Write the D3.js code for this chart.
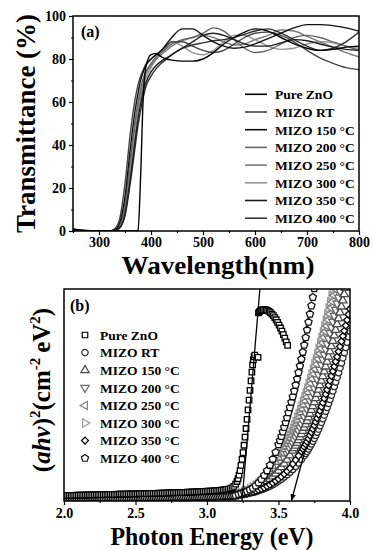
<!DOCTYPE html>
<html>
<head>
<meta charset="utf-8">
<script src="https://cdn.jsdelivr.net/npm/d3@7"></script>
<style>
  body { margin: 0; background: #fff; }
  svg { display: block; font-family: "Liberation Serif", "Times New Roman", serif; font-weight: bold; }
</style>
</head>
<body>
<div id="chart"></div>
<script>
// ---------- panel (a): transmittance vs wavelength ----------
const wavelengths = [250, 270, 300, 320, 330, 340, 350, 360, 370, 375, 380, 385, 390, 400, 410, 420, 430, 440, 460, 480, 500, 520, 540, 560, 580, 600, 625, 650, 675, 700, 725, 750, 775, 800];
const tPureZnO = [1.0, 0.3, 0, 0, 0, 0, 0, 0, 0, 0.5, 25, 62, 76, 82, 82.5, 81, 80, 79.5, 79, 79, 80, 83, 87, 90, 92.5, 94, 93, 90, 87, 85, 84, 84.5, 85.5, 86];
const tMizoRT  = [0.8, 0.2, 0, 0, 1, 6, 22, 45, 62, 68, 72, 75, 77.5, 80, 82, 84, 86, 88, 88, 86, 84, 83, 84, 87, 90, 92, 92.5, 91, 88, 84, 80.5, 78, 76, 75];
const tMizo150 = [0.6, 0.2, 0, 0, 0.5, 4, 16, 38, 57, 64, 70, 74, 77, 80, 82, 84, 87, 90, 94, 94, 91, 88, 86, 85, 85.5, 87, 89.5, 92, 94.5, 96, 96, 95.5, 94.5, 93];
const tMizo200 = [0.5, 0.1, 0, 0, 0.5, 3, 13, 33, 52, 60, 66, 71, 74, 78, 81, 83, 85, 87, 89, 90, 92, 94.5, 93, 89, 85, 83, 84, 87, 90, 91, 90, 88, 86, 84];
const tMizo250 = [0.5, 0.1, 0, 0, 0.3, 2.5, 11, 30, 50, 58, 64, 69, 73, 77, 80, 82, 84, 86, 88.5, 90, 91, 90, 88, 86.5, 87, 89, 91, 93.5, 93, 90.5, 88, 85.5, 83, 81];
const tMizo300 = [0.4, 0.1, 0, 0, 0.2, 2, 9, 26, 46, 55, 62, 67, 71, 76, 80, 83, 86, 88, 86, 83, 82, 84, 88, 91, 91, 89, 86, 84.5, 85, 87, 88, 87.5, 86, 85];
const tMizo350 = [0.4, 0.1, 0, 0, 0.2, 1.5, 8, 24, 43, 52, 59, 65, 69, 74, 77, 79, 80.5, 82, 85, 88, 91, 92, 91, 89, 87, 86, 86, 87.5, 89, 88.5, 87, 85.5, 84.5, 84];
const tMizo400 = [0.4, 0.1, 0, 0, 0.2, 1.5, 7, 22, 40, 49, 56, 62, 67, 72, 75.5, 78, 80, 82, 85, 86.5, 87.5, 88.5, 89, 90, 91.5, 93, 94, 92, 89, 86, 84, 85, 88, 92.5];

const sampleNames = ["Pure ZnO", "MIZO RT", "MIZO 150 °C", "MIZO 200 °C", "MIZO 250 °C", "MIZO 300 °C", "MIZO 350 °C", "MIZO 400 °C"];
const xTicksA = [300, 400, 500, 600, 700, 800];
const xMinorA = [250, 350, 450, 550, 650, 750];
const yTicksA = [0, 20, 40, 60, 80, 100];
const yMinorA = [10, 30, 50, 70, 90];

// ---------- panel (b): Tauc plot ----------
// flat low-energy part, where the curves pile up into one dark band
const tailEnergy = [
  2, 2.0125, 2.025, 2.0375, 2.05, 2.0625, 2.075, 2.0875, 2.1, 2.1125,
  2.125, 2.1375, 2.15, 2.1625, 2.175, 2.1875, 2.2, 2.2125, 2.225, 2.2375,
  2.25, 2.2625, 2.275, 2.2875, 2.3, 2.3125, 2.325, 2.3375, 2.35, 2.3625,
  2.375, 2.3875, 2.4, 2.4125, 2.425, 2.4375, 2.45, 2.4625, 2.475, 2.4875,
  2.5, 2.5125, 2.525, 2.5375, 2.55, 2.5625, 2.575, 2.5875, 2.6, 2.6125,
  2.625, 2.6375, 2.65, 2.6625, 2.675, 2.6875, 2.7, 2.7125, 2.725, 2.7375,
  2.75, 2.7625, 2.775, 2.7875, 2.8, 2.8125, 2.825, 2.8375, 2.85, 2.8625,
  2.875, 2.8875, 2.9, 2.9125, 2.925, 2.9375, 2.95, 2.9625, 2.975, 2.9875,
  3.0, 3.0125, 3.025, 3.0375, 3.05, 3.0625, 3.075, 3.0875, 3.1, 3.1125,
  3.125, 3.1375, 3.15, 3.1625, 3.175, 3.1875, 3.2];
const tailZnO = [
  2.6, 2.6, 2.62, 2.64, 2.66, 2.68, 2.7, 2.72, 2.74, 2.76,
  2.78, 2.8, 2.82, 2.84, 2.86, 2.88, 2.9, 2.92, 2.94, 2.96,
  2.98, 3.0, 3.02, 3.04, 3.06, 3.08, 3.1, 3.12, 3.14, 3.16,
  3.18, 3.2, 3.22, 3.24, 3.26, 3.28, 3.3, 3.32, 3.34, 3.36,
  3.38, 3.4, 3.42, 3.44, 3.46, 3.48, 3.5, 3.52, 3.54, 3.56,
  3.58, 3.6, 3.62, 3.65, 3.68, 3.71, 3.74, 3.77, 3.8, 3.83,
  3.86, 3.89, 3.92, 3.95, 3.98, 4.01, 4.04, 4.07, 4.1, 4.14,
  4.18, 4.22, 4.26, 4.3, 4.34, 4.38, 4.42, 4.46, 4.5, 4.55,
  4.6, 4.65, 4.7, 4.76, 4.82, 4.88, 4.95, 5.02, 5.1, 5.2,
  5.32, 5.46, 5.64, 5.86, 6.2, 6.9, 8.0];
const tailMIZO = [
  1.3, 1.3, 1.31, 1.32, 1.33, 1.34, 1.35, 1.36, 1.37, 1.38,
  1.39, 1.4, 1.41, 1.42, 1.43, 1.44, 1.45, 1.46, 1.47, 1.48,
  1.49, 1.5, 1.51, 1.52, 1.53, 1.54, 1.55, 1.56, 1.57, 1.58,
  1.59, 1.6, 1.61, 1.62, 1.63, 1.64, 1.65, 1.66, 1.67, 1.68,
  1.69, 1.7, 1.71, 1.72, 1.73, 1.74, 1.75, 1.76, 1.77, 1.78,
  1.79, 1.8, 1.81, 1.82, 1.83, 1.84, 1.85, 1.86, 1.87, 1.88,
  1.89, 1.9, 1.91, 1.92, 1.93, 1.94, 1.95, 1.96, 1.97, 1.98,
  1.99, 2.0, 2.01, 2.02, 2.03, 2.04, 2.05, 2.07, 2.09, 2.11,
  2.13, 2.15, 2.17, 2.19, 2.21, 2.23, 2.26, 2.29, 2.32, 2.35,
  2.38, 2.42, 2.46, 2.5, 2.55, 2.6, 2.66];

// [energy, (ahv)^2] above the common tail
const riseZnO = [[3.21, 9.2], [3.217, 10.5], [3.224, 12.2], [3.231, 14.3], [3.238, 16.8], [3.245, 19.6], [3.252, 22.8], [3.259, 26.3], [3.266, 30.1], [3.273, 34.2], [3.28, 38.5], [3.287, 43], [3.294, 47.6], [3.301, 52.2], [3.308, 56.7], [3.314, 60.8], [3.319, 64.2], [3.324, 66.6], [3.329, 68.0], [3.334, 68.8], [3.357, 67.8], [3.36, 88.7], [3.367, 89.3], [3.375, 89.8], [3.384, 90.1], [3.394, 90.3], [3.404, 90.3], [3.414, 90.1], [3.424, 89.8], [3.434, 89.4], [3.444, 88.9], [3.454, 88.2], [3.464, 87.4], [3.474, 86.5], [3.484, 85.5], [3.494, 84.3], [3.504, 83.0], [3.514, 81.6], [3.524, 80.1], [3.534, 78.5], [3.544, 76.8], [3.554, 75.1], [3.564, 73.4]];
const riseRT = [[3.22, 2.8], [3.24, 3.0], [3.26, 3.2], [3.28, 3.4], [3.30, 3.7], [3.32, 4.0], [3.34, 4.4], [3.36, 4.8], [3.38, 5.3], [3.40, 5.8], [3.42, 6.4], [3.44, 7.0], [3.46, 7.7], [3.48, 8.5], [3.50, 9.4], [3.52, 10.3], [3.54, 11.3], [3.56, 12.4], [3.58, 13.6], [3.60, 14.9], [3.62, 16.3], [3.64, 17.9], [3.66, 19.6], [3.68, 21.4], [3.69, 22.4], [3.70, 23.4], [3.71, 24.5], [3.72, 25.7], [3.73, 26.9], [3.74, 28.2], [3.75, 29.5], [3.76, 30.9], [3.77, 32.4], [3.78, 33.9], [3.79, 35.5], [3.80, 37.1], [3.81, 38.8], [3.82, 40.5], [3.83, 42.3], [3.84, 44.1], [3.85, 46.0], [3.86, 47.9], [3.87, 49.9], [3.88, 51.9], [3.89, 54.0], [3.90, 56.1], [3.91, 58.3], [3.92, 60.5], [3.93, 62.8], [3.94, 65.1], [3.95, 67.5], [3.96, 69.9], [3.97, 72.4], [3.98, 74.9], [3.99, 77.5], [4.00, 80.1]];
const rise150 = [[3.22, 3.0], [3.24, 3.4], [3.26, 3.9], [3.28, 4.3], [3.30, 4.8], [3.32, 5.3], [3.34, 5.9], [3.36, 6.6], [3.38, 7.4], [3.40, 8.3], [3.42, 9.3], [3.44, 10.4], [3.46, 11.6], [3.48, 12.9], [3.50, 14.3], [3.52, 15.9], [3.54, 17.6], [3.56, 19.5], [3.58, 21.5], [3.60, 23.7], [3.61, 24.9], [3.62, 26.1], [3.63, 27.4], [3.64, 28.7], [3.65, 30.1], [3.66, 31.5], [3.67, 33.0], [3.68, 34.5], [3.69, 36.1], [3.70, 37.7], [3.71, 39.4], [3.72, 41.1], [3.73, 42.9], [3.74, 44.7], [3.75, 46.6], [3.76, 48.5], [3.77, 50.5], [3.78, 52.5], [3.79, 54.6], [3.80, 56.7], [3.81, 58.9], [3.82, 61.1], [3.83, 63.4], [3.84, 65.7], [3.85, 68.1], [3.86, 70.5], [3.87, 73.0], [3.88, 75.5], [3.89, 78.1], [3.90, 80.7], [3.91, 83.4], [3.92, 86.1], [3.93, 88.9], [3.94, 91.7], [3.95, 94.6], [3.96, 97.5], [3.97, 100.5]];
const rise200 = [[3.22, 3.1], [3.24, 3.6], [3.26, 4.1], [3.28, 4.6], [3.30, 5.1], [3.32, 5.7], [3.34, 6.4], [3.36, 7.2], [3.38, 8.1], [3.40, 9.1], [3.42, 10.2], [3.44, 11.5], [3.46, 12.9], [3.48, 14.4], [3.50, 16.1], [3.52, 18.0], [3.54, 20.0], [3.56, 22.2], [3.57, 23.4], [3.58, 24.6], [3.59, 25.9], [3.60, 27.2], [3.61, 28.6], [3.62, 30.0], [3.63, 31.5], [3.64, 33.0], [3.65, 34.6], [3.66, 36.2], [3.67, 37.9], [3.68, 39.6], [3.69, 41.4], [3.70, 43.2], [3.71, 45.1], [3.72, 47.0], [3.73, 49.0], [3.74, 51.0], [3.75, 53.1], [3.76, 55.2], [3.77, 57.4], [3.78, 59.6], [3.79, 61.9], [3.80, 64.2], [3.81, 66.6], [3.82, 69.0], [3.83, 71.5], [3.84, 74.0], [3.85, 76.6], [3.86, 79.2], [3.87, 81.9], [3.88, 84.6], [3.89, 87.4], [3.90, 90.2], [3.91, 93.1], [3.92, 96.0], [3.93, 99.0], [3.94, 102]];
const rise250 = [[3.22, 3.2], [3.24, 3.7], [3.26, 4.3], [3.28, 4.8], [3.30, 5.4], [3.32, 6.1], [3.34, 6.9], [3.36, 7.8], [3.38, 8.8], [3.40, 9.9], [3.42, 11.2], [3.44, 12.6], [3.46, 14.2], [3.48, 16.0], [3.50, 18.0], [3.52, 20.2], [3.54, 22.6], [3.55, 23.9], [3.56, 25.2], [3.57, 26.6], [3.58, 28.0], [3.59, 29.5], [3.60, 31.0], [3.61, 32.6], [3.62, 34.2], [3.63, 35.9], [3.64, 37.6], [3.65, 39.4], [3.66, 41.2], [3.67, 43.1], [3.68, 45.0], [3.69, 47.0], [3.70, 49.0], [3.71, 51.1], [3.72, 53.2], [3.73, 55.4], [3.74, 57.6], [3.75, 59.9], [3.76, 62.2], [3.77, 64.6], [3.78, 67.0], [3.79, 69.5], [3.80, 72.0], [3.81, 74.6], [3.82, 77.2], [3.83, 79.9], [3.84, 82.6], [3.85, 85.4], [3.86, 88.2], [3.87, 91.1], [3.88, 94.0], [3.89, 97.0], [3.90, 100]];
const rise300 = [[3.22, 3.3], [3.24, 3.8], [3.26, 4.5], [3.28, 5.1], [3.30, 5.8], [3.32, 6.6], [3.34, 7.5], [3.36, 8.5], [3.38, 9.7], [3.40, 11.0], [3.42, 12.5], [3.44, 14.1], [3.46, 15.9], [3.48, 17.9], [3.50, 20.1], [3.52, 22.5], [3.53, 23.8], [3.54, 25.1], [3.55, 26.5], [3.56, 27.9], [3.57, 29.4], [3.58, 30.9], [3.59, 32.5], [3.60, 34.1], [3.61, 35.8], [3.62, 37.5], [3.63, 39.3], [3.64, 41.1], [3.65, 43.0], [3.66, 44.9], [3.67, 46.9], [3.68, 48.9], [3.69, 51.0], [3.70, 53.1], [3.71, 55.3], [3.72, 57.5], [3.73, 59.8], [3.74, 62.1], [3.75, 64.5], [3.76, 66.9], [3.77, 69.4], [3.78, 71.9], [3.79, 74.5], [3.80, 77.1], [3.81, 79.8], [3.82, 82.5], [3.83, 85.3], [3.84, 88.1], [3.85, 91.0], [3.86, 93.9], [3.87, 96.9], [3.88, 100]];
const rise350 = [[3.22, 2.9], [3.24, 3.1], [3.26, 3.3], [3.28, 3.6], [3.30, 3.9], [3.32, 4.3], [3.34, 4.7], [3.36, 5.2], [3.38, 5.7], [3.40, 6.3], [3.42, 7.0], [3.44, 7.7], [3.46, 8.5], [3.48, 9.4], [3.50, 10.4], [3.52, 11.5], [3.54, 12.7], [3.56, 14.0], [3.58, 15.4], [3.60, 17.5], [3.62, 19.3], [3.64, 21.3], [3.66, 23.4], [3.67, 24.5], [3.68, 25.6], [3.69, 26.8], [3.70, 28.0], [3.71, 29.4], [3.72, 30.9], [3.73, 32.4], [3.74, 34.0], [3.75, 35.6], [3.76, 37.3], [3.77, 39.0], [3.78, 40.8], [3.79, 42.6], [3.80, 44.5], [3.81, 46.4], [3.82, 48.4], [3.83, 50.4], [3.84, 52.5], [3.85, 54.6], [3.86, 56.8], [3.87, 59.0], [3.88, 61.2], [3.89, 63.5], [3.90, 65.8], [3.91, 68.1], [3.92, 70.5], [3.93, 72.9], [3.94, 75.3], [3.95, 77.8], [3.96, 80.3], [3.97, 82.8], [3.98, 85.4], [3.99, 88.0], [4.00, 90.6]];
const rise400 = [[3.22, 3.2], [3.24, 3.6], [3.26, 4.0], [3.28, 4.6], [3.30, 5.3], [3.32, 6.1], [3.34, 7.2], [3.36, 8.6], [3.38, 10.2], [3.40, 12.1], [3.42, 14.3], [3.44, 16.9], [3.46, 19.8], [3.48, 23.0], [3.50, 26.6], [3.51, 28.5], [3.52, 30.5], [3.53, 32.6], [3.54, 34.8], [3.55, 37.0], [3.56, 39.3], [3.57, 41.7], [3.58, 44.1], [3.59, 46.6], [3.60, 49.2], [3.61, 51.9], [3.62, 54.7], [3.63, 57.6], [3.64, 60.6], [3.65, 63.7], [3.66, 66.9], [3.67, 70.2], [3.68, 73.6], [3.69, 77.1], [3.70, 80.7], [3.71, 84.4], [3.72, 88.2], [3.73, 92.1], [3.74, 96.1], [3.75, 100.2]];

// extrapolated band-gap lines: [[E0, y0], [E1, y1]]
const fitZnO = [[3.245, 0], [3.37, 100]];
const fitMIZO = [[3.69, 25], [3.59, 0]];

const xTicksB = [2.0, 2.5, 3.0, 3.5, 4.0];
const xMinorB = [2.25, 2.75, 3.25, 3.75];

// ---------- styles ----------
const lineColors = ["#000", "#454545", "#111", "#666", "#7a7a7a", "#959595", "#1e1e1e", "#333"];
const markColors = ["#000", "#2a2a2a", "#4a4a4a", "#6a6a6a", "#808080", "#9a9a9a", "#000", "#111"];

const W = 373, H = 550;
const svg = d3.select("#chart").append("svg").attr("width", W).attr("height", H);

const pA = { left: 73, right: 359, top: 16, bottom: 231 };
const pB = { left: 64, right: 350, top: 289, bottom: 501 };

const defs = svg.append("defs");
defs.append("clipPath").attr("id", "clipA").append("rect")
  .attr("x", pA.left).attr("y", pA.top).attr("width", pA.right - pA.left).attr("height", pA.bottom - pA.top);
defs.append("clipPath").attr("id", "clipB").append("rect")
  .attr("x", pB.left).attr("y", pB.top).attr("width", pB.right - pB.left).attr("height", pB.bottom - pB.top);
defs.append("marker").attr("id", "arrow").attr("viewBox", "0 0 10 10").attr("refX", 10).attr("refY", 5)
  .attr("markerWidth", 7).attr("markerHeight", 7).attr("markerUnits", "userSpaceOnUse").attr("orient", "auto")
  .append("path").attr("d", "M0,1 L10,5 L0,9 Z").attr("fill", "#000");

function styleAxis(g, size) {
  g.select(".domain").remove();
  g.selectAll(".tick line").attr("stroke", "#000").attr("stroke-width", 1.2);
  g.selectAll(".tick text").attr("fill", "#000").style("font-size", size + "px").style("font-family", "Liberation Serif, serif").style("font-weight", "bold");
}

// ---------- panel (a) ----------
const xA = d3.scaleLinear().domain([250, 800]).range([pA.left, pA.right]);
const yA = d3.scaleLinear().domain([0, 100]).range([pA.bottom, pA.top]);

svg.append("g").attr("transform", `translate(0,${pA.bottom})`)
  .call(d3.axisBottom(xA).tickValues(xTicksA).tickSize(4).tickPadding(2)).call(g => styleAxis(g, 14));
svg.append("g").attr("transform", `translate(0,${pA.bottom})`)
  .call(d3.axisBottom(xA).tickValues(xMinorA).tickSize(2).tickFormat("")).call(g => styleAxis(g, 14));
svg.append("g").attr("transform", `translate(${pA.left},0)`)
  .call(d3.axisLeft(yA).tickValues(yTicksA).tickSize(4).tickPadding(3)).call(g => styleAxis(g, 14));
svg.append("g").attr("transform", `translate(${pA.left},0)`)
  .call(d3.axisLeft(yA).tickValues(yMinorA).tickSize(2).tickFormat("")).call(g => styleAxis(g, 14));

const transSeries = [tPureZnO, tMizoRT, tMizo150, tMizo200, tMizo250, tMizo300, tMizo350, tMizo400];
const line = d3.line().x((d, i) => xA(wavelengths[i])).y(d => yA(d)).curve(d3.curveMonotoneX);
const linesG = svg.append("g").attr("clip-path", "url(#clipA)");
[5, 4, 3, 1, 7, 6, 2, 0].forEach(k => {
  linesG.append("path").datum(transSeries[k]).attr("d", line)
    .attr("fill", "none").attr("stroke", lineColors[k]).attr("stroke-width", 1.4);
});

svg.append("rect").attr("x", pA.left).attr("y", pA.top).attr("width", pA.right - pA.left).attr("height", pA.bottom - pA.top)
  .attr("fill", "none").attr("stroke", "#000").attr("stroke-width", 1.5);

svg.append("text").attr("x", 81).attr("y", 37).style("font-size", "16px").text("(a)");

const legA = svg.append("g");
sampleNames.forEach((name, i) => {
  const cy = 94.3 + i * 17.7;
  legA.append("line").attr("x1", 245).attr("x2", 267).attr("y1", cy).attr("y2", cy)
    .attr("stroke", lineColors[i]).attr("stroke-width", 1.6);
  legA.append("text").attr("x", 275).attr("y", cy + 4.8).style("font-size", "13.5px").text(name);
});

svg.append("text").attr("transform", `translate(35,${(pA.top + pA.bottom) / 2}) rotate(-90)`)
  .attr("text-anchor", "middle").style("font-size", "27px").text("Transmittance (%)");
svg.append("text").attr("x", 218).attr("y", 274).attr("text-anchor", "middle")
  .attr("textLength", 193).attr("lengthAdjust", "spacingAndGlyphs")
  .style("font-size", "25px").text("Wavelength(nm)");

// ---------- panel (b) ----------
const xB = d3.scaleLinear().domain([2.0, 4.0]).range([pB.left, pB.right]);
const yB = d3.scaleLinear().domain([0, 100]).range([pB.bottom, pB.top]);

svg.append("g").attr("transform", `translate(0,${pB.bottom})`)
  .call(d3.axisBottom(xB).tickValues(xTicksB).tickSize(4).tickPadding(3).tickFormat(d3.format(".1f"))).call(g => styleAxis(g, 14));
svg.append("g").attr("transform", `translate(0,${pB.bottom})`)
  .call(d3.axisBottom(xB).tickValues(xMinorB).tickSize(2).tickFormat("")).call(g => styleAxis(g, 14));

const symbolPentagon = {
  draw(ctx, size) {
    const r = Math.sqrt(size / 2.378);
    for (let i = 0; i < 5; i++) {
      const a = -Math.PI / 2 + i * 2 * Math.PI / 5;
      if (i === 0) ctx.moveTo(r * Math.cos(a), r * Math.sin(a));
      else ctx.lineTo(r * Math.cos(a), r * Math.sin(a));
    }
    ctx.closePath();
  }
};
const markTypes = [
  { type: d3.symbolSquare, size: 30, rot: 0 },
  { type: d3.symbolCircle, size: 32, rot: 0 },
  { type: d3.symbolTriangle, size: 30, rot: 0 },
  { type: d3.symbolTriangle, size: 30, rot: 180 },
  { type: d3.symbolTriangle, size: 30, rot: -90 },
  { type: d3.symbolTriangle, size: 30, rot: 90 },
  { type: d3.symbolSquare, size: 24, rot: 45 },
  { type: symbolPentagon, size: 34, rot: 0 }
];

const withTail = (tail, rise) => tailEnergy.map((e, i) => [e, tail[i]]).concat(rise);
const taucSeries = [
  withTail(tailZnO, riseZnO),
  withTail(tailMIZO, riseRT),
  withTail(tailMIZO, rise150),
  withTail(tailMIZO, rise200),
  withTail(tailMIZO, rise250),
  withTail(tailMIZO, rise300),
  withTail(tailMIZO, rise350),
  withTail(tailMIZO, rise400)
];

const marksG = svg.append("g").attr("clip-path", "url(#clipB)");
[5, 4, 3, 2, 1, 6, 7, 0].forEach(k => {
  const m = markTypes[k];
  marksG.append("g").selectAll("path").data(taucSeries[k]).join("path")
    .attr("d", d3.symbol().type(m.type).size(m.size))
    .attr("transform", d => `translate(${xB(d[0])},${yB(d[1])}) rotate(${m.rot})`)
    .attr("fill", "#fff").attr("stroke", markColors[k]).attr("stroke-width", 1.3);
});

const fitLine = d3.line().x(d => xB(d[0])).y(d => yB(d[1]));
marksG.append("path").datum(fitZnO).attr("d", fitLine).attr("stroke", "#000").attr("stroke-width", 1.3).attr("fill", "none");
svg.append("path").datum(fitMIZO).attr("d", fitLine).attr("stroke", "#000").attr("stroke-width", 1.3)
  .attr("fill", "none").attr("marker-end", "url(#arrow)");

svg.append("rect").attr("x", pB.left).attr("y", pB.top).attr("width", pB.right - pB.left).attr("height", pB.bottom - pB.top)
  .attr("fill", "none").attr("stroke", "#000").attr("stroke-width", 1.5);

svg.append("text").attr("x", 70).attr("y", 311).style("font-size", "16px").text("(b)");

const legB = svg.append("g");
sampleNames.forEach((name, i) => {
  const cy = 335 + i * 17.6;
  const m = markTypes[i];
  legB.append("path").attr("d", d3.symbol().type(m.type).size(m.size))
    .attr("transform", `translate(85,${cy}) rotate(${m.rot})`)
    .attr("fill", "#fff").attr("stroke", markColors[i]).attr("stroke-width", 1.2);
  legB.append("text").attr("x", 100).attr("y", cy + 4.8).style("font-size", "13.5px").text(name);
});

const yt = svg.append("text").attr("transform", `translate(50,${(pB.top + pB.bottom) / 2 - 5}) rotate(-90)`)
  .attr("text-anchor", "middle").style("font-size", "25px");
yt.append("tspan").text("(");
yt.append("tspan").style("font-style", "italic").text("ahv");
yt.append("tspan").text(")");
yt.append("tspan").attr("dy", -10).style("font-size", "15px").text("2");
yt.append("tspan").attr("dy", 10).text("(cm");
yt.append("tspan").attr("dy", -10).style("font-size", "15px").text("-2");
yt.append("tspan").attr("dy", 10).text("\u2009eV");
yt.append("tspan").attr("dy", -10).style("font-size", "15px").text("2");
yt.append("tspan").attr("dy", 10).text(")");

svg.append("text").attr("x", 212).attr("y", 545).attr("text-anchor", "middle")
  .attr("textLength", 203).attr("lengthAdjust", "spacingAndGlyphs")
  .style("font-size", "25px").text("Photon Energy (eV)");
</script>
</body>
</html>
